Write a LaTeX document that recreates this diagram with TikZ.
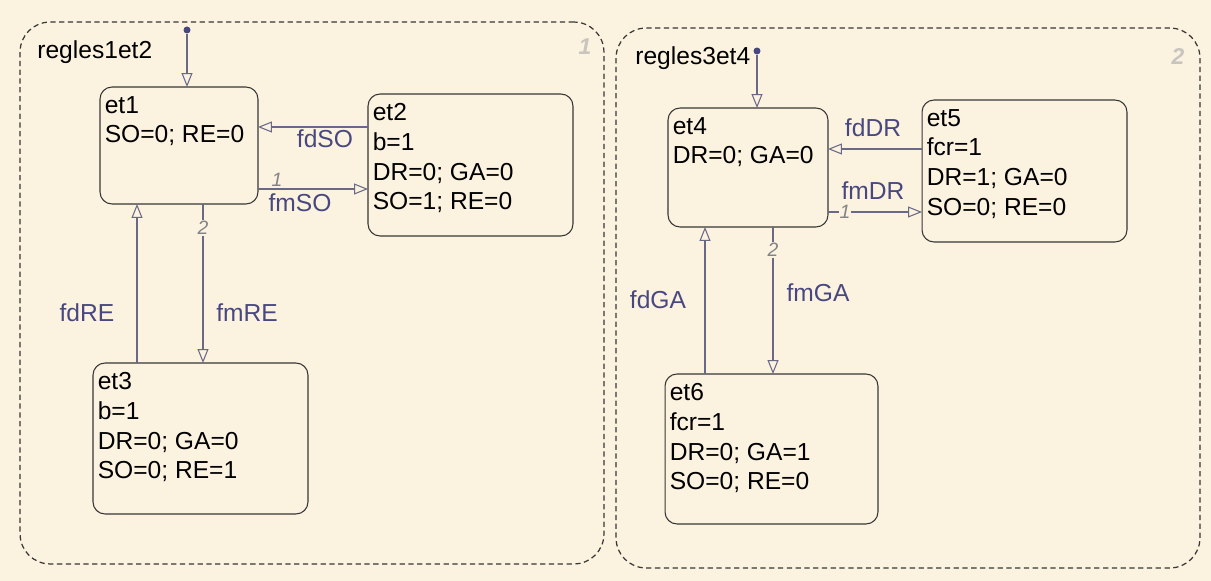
\documentclass[tikz,border=0pt]{standalone}
\usepackage{fontspec}
\setmainfont{Liberation Sans}
\usetikzlibrary{arrows.meta,positioning}

\definecolor{chartbg}{RGB}{252,242,224}
\definecolor{boxline}{RGB}{55,55,55}
\definecolor{transline}{RGB}{105,105,135}
\definecolor{translbl}{RGB}{72,72,128}
\definecolor{numgrey}{RGB}{130,130,135}
\definecolor{chartnum}{RGB}{200,196,190}

\begin{document}
\begin{tikzpicture}[
    x=0.02cm, y=-0.02cm,
    chart/.style={draw=boxline, dash pattern=on 3pt off 2pt, rounded corners=0.6cm, line width=0.7pt, inner sep=0pt},
    state/.style={draw=boxline, rounded corners=0.24cm, line width=0.6pt, inner sep=0pt, outer sep=0pt},
    stxt/.style={anchor=north west, align=left, text=black, inner xsep=2.5pt, inner ysep=5pt, font=\fontsize{14}{17}\selectfont},
    title/.style={anchor=west, text=black, inner sep=0pt, font=\fontsize{14}{17}\selectfont},
    trans/.style={draw=transline, line width=0.6pt, -{Triangle[open, length=0.28cm, width=0.22cm]}},
    tlbl/.style={text=translbl, inner sep=0pt, font=\fontsize{14}{17}\selectfont},
    num/.style={text=numgrey, fill=chartbg, inner sep=0.6pt, font=\fontsize{11}{13}\selectfont\itshape},
    cnum/.style={text=chartnum, inner sep=0pt, font=\fontsize{13}{15}\selectfont\bfseries\itshape},
    dflt/.style={circle, fill=translbl, inner sep=0pt, minimum size=0.14cm},
  ]
  \fill[chartbg] (0,0) rectangle (1211,581);
  \useasboundingbox (0,0) rectangle (1211,581);

  % the two charts
  \node[chart, minimum width=11.68cm, minimum height=10.84cm] (chart1) at (312,293) {};
  \node[chart, minimum width=11.68cm, minimum height=10.80cm] (chart2) at (908,298) {};
  \node[title] (t12) at (37,52) {regles1et2};
  \node[title] (t34) at (635,58) {regles3et4};
  \node[cnum] (n1) at (585,47) {1};
  \node[cnum] (n2) at (1178,57) {2};

  % states of regles1et2
  \node[state, minimum width=3.16cm, minimum height=2.34cm,
        label={[stxt]north west:{et1\\SO=0; RE=0}}] (et1) at (179,145.5) {};
  \node[state, minimum width=4.10cm, minimum height=2.84cm,
        label={[stxt]north west:{et2\\b=1\\DR=0; GA=0\\SO=1; RE=0}}] (et2) at (470.5,165) {};
  \node[state, minimum width=4.30cm, minimum height=3.02cm,
        label={[stxt]north west:{et3\\b=1\\DR=0; GA=0\\SO=0; RE=1}}] (et3) at (200.5,438.5) {};

  % states of regles3et4
  \node[state, minimum width=3.20cm, minimum height=2.38cm,
        label={[stxt]north west:{et4\\DR=0; GA=0}}] (et4) at (748,167.5) {};
  \node[state, minimum width=4.10cm, minimum height=2.84cm,
        label={[stxt]north west:{et5\\fcr=1\\DR=1; GA=0\\SO=0; RE=0}}] (et5) at (1024.5,171) {};
  \node[state, minimum width=4.26cm, minimum height=3.00cm,
        label={[stxt]north west:{et6\\fcr=1\\DR=0; GA=1\\SO=0; RE=0}}] (et6) at (771.5,449) {};

  % default transitions
  \node[dflt] (d1) at (187,30) {};
  \node[dflt] (d2) at (757,51) {};
  \draw[trans] (d1) -- (et1.north -| d1);
  \draw[trans] (d2) -- (et4.north -| d2);

  % transitions regles1et2
  \draw[trans] (et2.west |- 0,127) -- (et1.east |- 0,127);
  \node[tlbl] (fdSO) at (325,139) {fdSO};
  \draw[trans] (et1.east |- 0,189) -- (et2.west |- 0,189);
  \node[tlbl] (fmSO) at (300,203) {fmSO};
  \node[num] (p1) at (277,180) {1};
  \draw[trans] (et3.north -| 137,0) -- (et1.south -| 137,0);
  \node[tlbl] (fdRE) at (87,313) {fdRE};
  \draw[trans] (et1.south -| 203,0) -- (et3.north -| 203,0);
  \node[num] (p2) at (203,228) {2};
  \node[tlbl] (fmRE) at (247,313) {fmRE};

  % transitions regles3et4
  \draw[trans] (et5.west |- 0,149) -- (et4.east |- 0,149);
  \node[tlbl] (fdDR) at (873,128) {fdDR};
  \draw[trans] (et4.east |- 0,212) -- (et5.west |- 0,212);
  \node[num] (p3) at (845,212) {1};
  \node[tlbl] (fmDR) at (873,191) {fmDR};
  \draw[trans] (et6.north -| 705,0) -- (et4.south -| 705,0);
  \node[tlbl] (fdGA) at (658,300) {fdGA};
  \draw[trans] (et4.south -| 773,0) -- (et6.north -| 773,0);
  \node[num] (p4) at (773,250) {2};
  \node[tlbl] (fmGA) at (818,293) {fmGA};
\end{tikzpicture}
\end{document}
